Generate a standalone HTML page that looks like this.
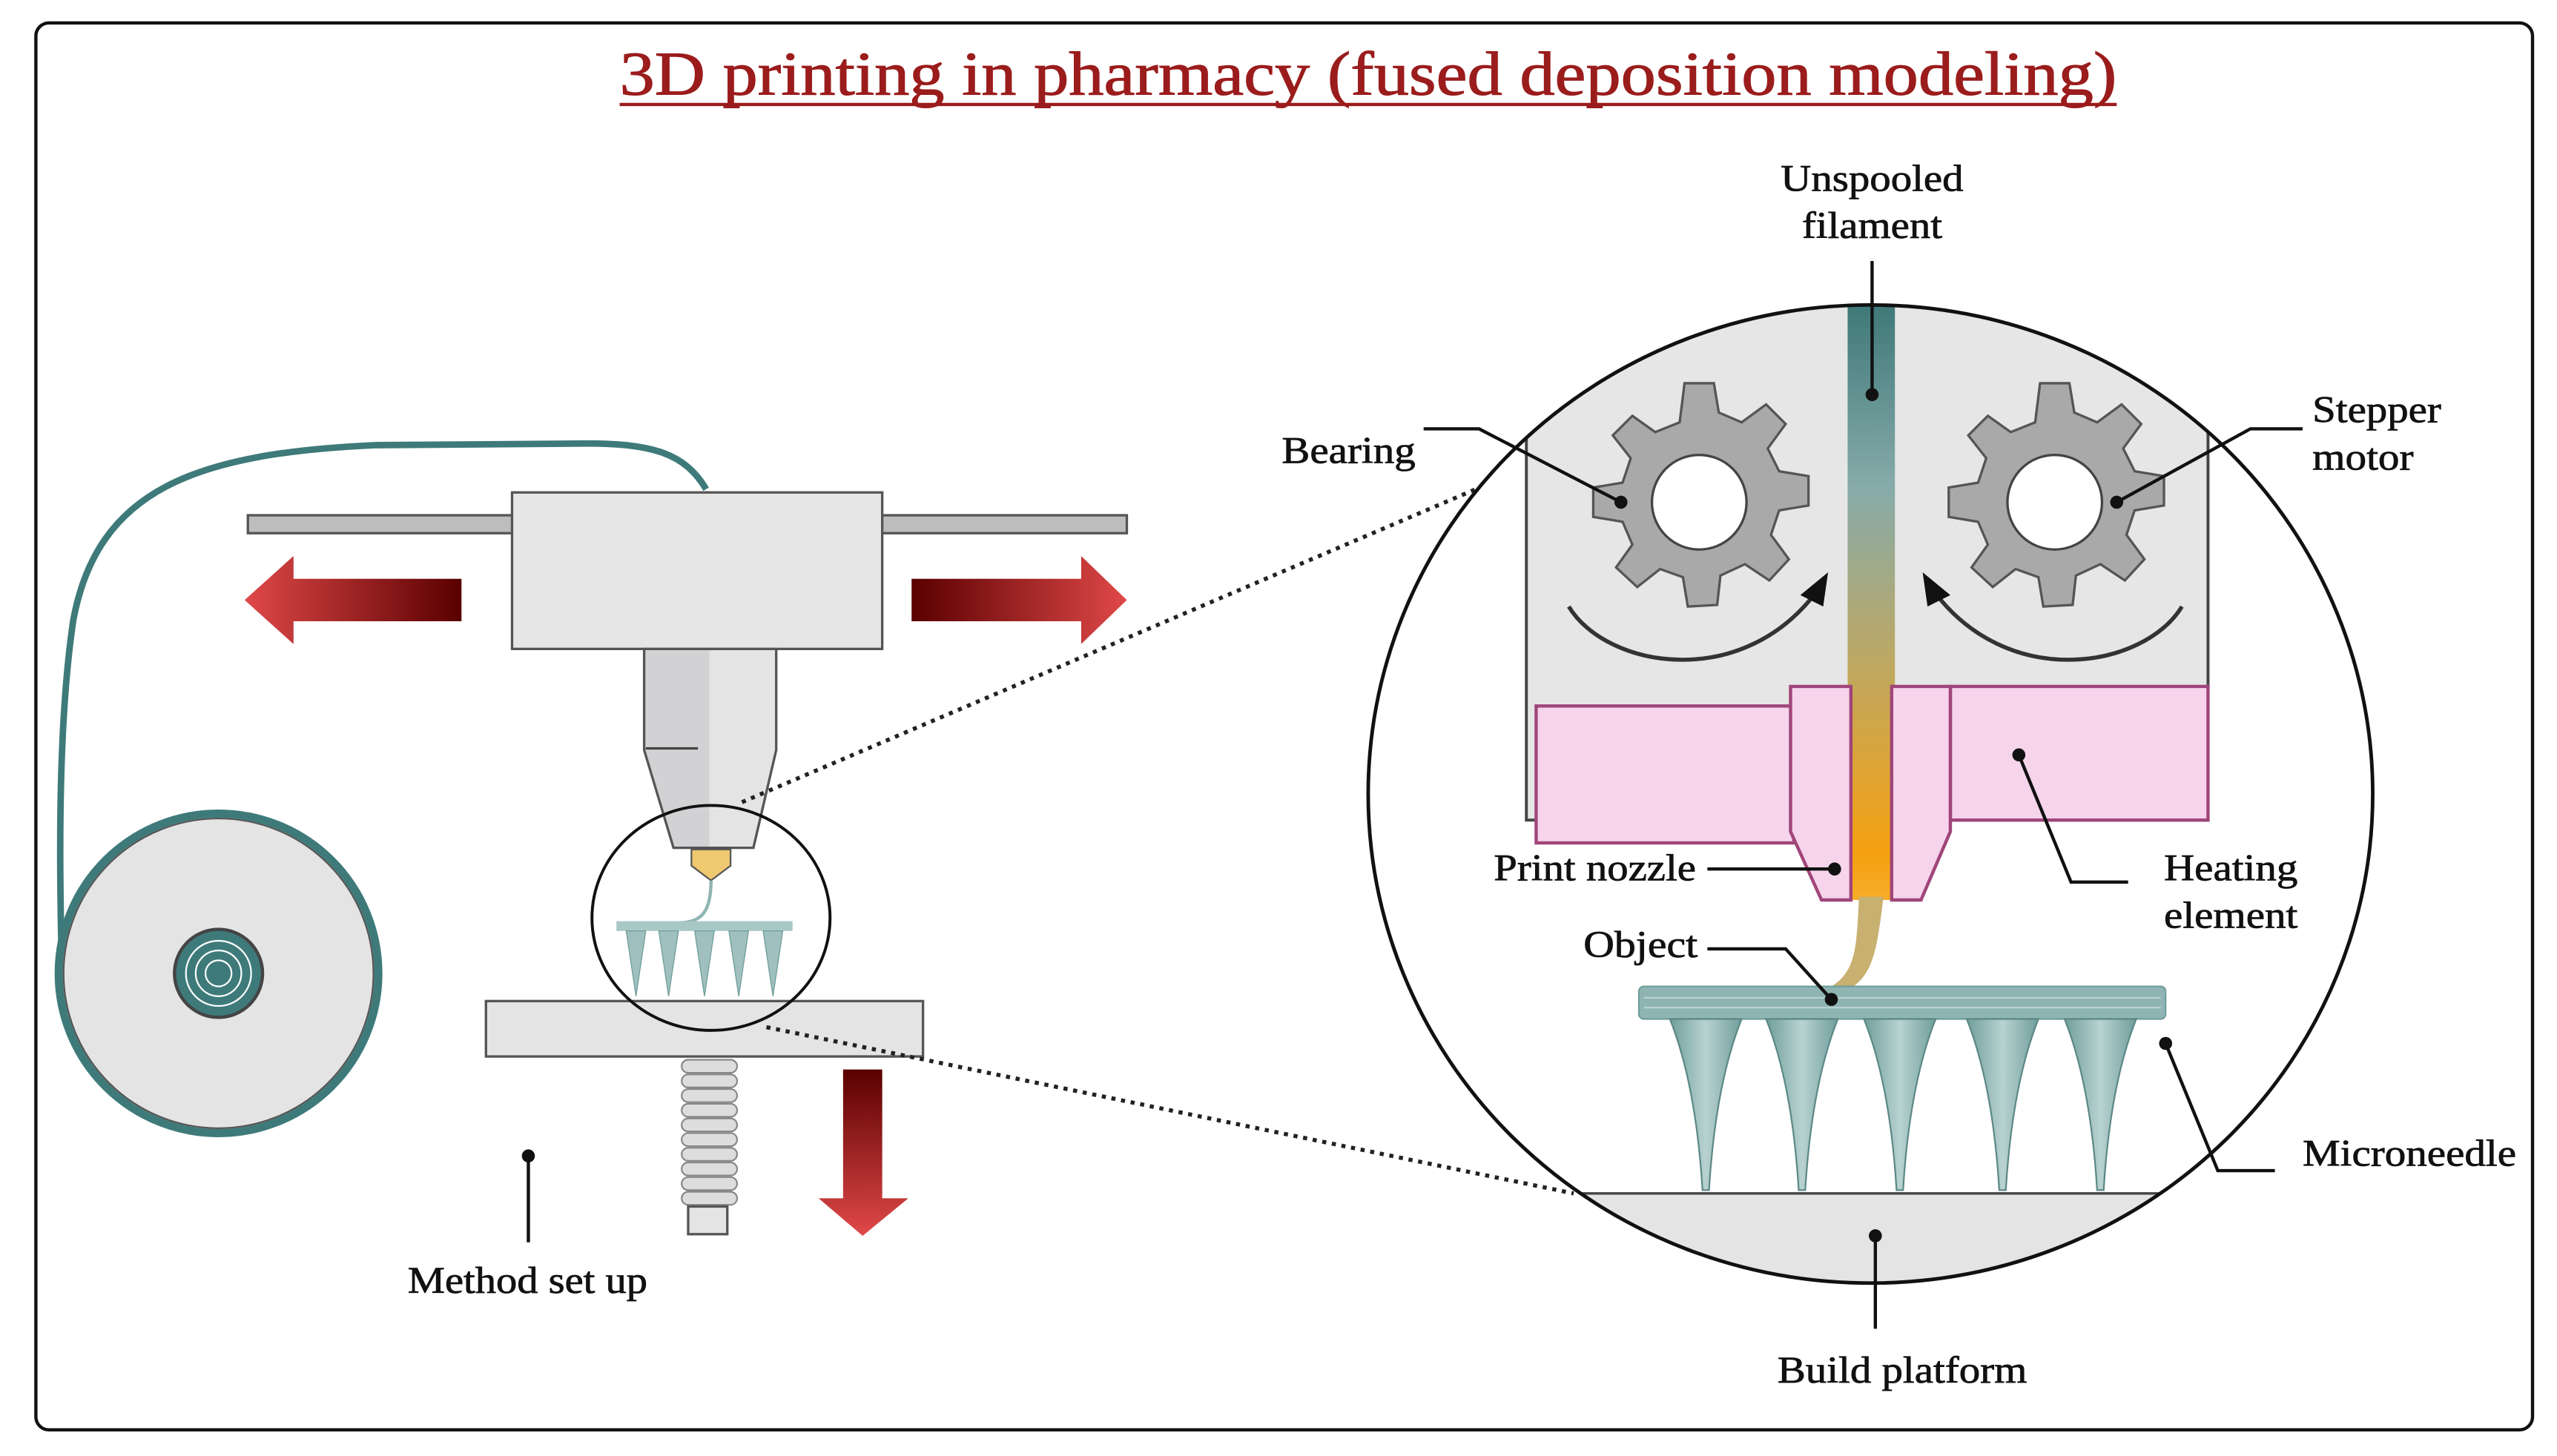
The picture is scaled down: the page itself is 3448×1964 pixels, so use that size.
<!DOCTYPE html>
<html><head><meta charset="utf-8"><style>
html,body{margin:0;padding:0;background:#fff;}
svg{display:block;}
text{font-family:"Liberation Serif",serif;fill:#111;stroke:#111;stroke-width:0.35;}
</style></head><body>
<svg width="3448" height="1964" viewBox="0 0 1568 893" xmlns="http://www.w3.org/2000/svg">
<defs>
<linearGradient id="gl" x1="0" x2="1" y1="0" y2="0"><stop offset="0" stop-color="#e04848"/><stop offset="1" stop-color="#5a0000"/></linearGradient>
<linearGradient id="gr" x1="0" x2="1" y1="0" y2="0"><stop offset="0" stop-color="#5a0000"/><stop offset="1" stop-color="#e04848"/></linearGradient>
<linearGradient id="gd" x1="0" x2="0" y1="0" y2="1"><stop offset="0" stop-color="#5a0000"/><stop offset="1" stop-color="#e04848"/></linearGradient>
<linearGradient id="fil" x1="0" x2="0" y1="187" y2="560" gradientUnits="userSpaceOnUse"><stop offset="0" stop-color="#3f7878"/><stop offset="0.3" stop-color="#86abaa"/><stop offset="0.6" stop-color="#c0a860"/><stop offset="0.9" stop-color="#f4a010"/><stop offset="1" stop-color="#f8b030"/></linearGradient>
<linearGradient id="nd" x1="0" x2="1"><stop offset="0" stop-color="#6f9e9c"/><stop offset="0.5" stop-color="#b8d2d0"/><stop offset="1" stop-color="#6f9e9c"/></linearGradient>
<clipPath id="cc"><ellipse cx="1147" cy="487" rx="308" ry="300"/></clipPath>
<g id="gear">
<path d="M-9,-73 L9,-73 L12,-55 L26,-49 L41,-60 L53,-48 L42,-33 L49,-19 L67,-16 L67,2 L49,5 L44,20 L55,35 L43,48 L28,38 L13,45 L11,63 L-7,64 L-10,46 L-24,41 L-38,52 L-51,40 L-41,26 L-47,12 L-65,9 L-65,-9 L-47,-12 L-42,-27 L-53,-41 L-41,-53 L-27,-43 L-12,-49 Z" fill="#a9a9a9" stroke="#555" stroke-width="1.5"/>
<circle r="29" fill="#fff" stroke="#444" stroke-width="1.5"/>
</g>
<g id="needle"><path d="M-22,0 L22,0 Q6,40 2,105 L-2,105 Q-6,40 -22,0 Z" fill="url(#nd)" stroke="#5c8886" stroke-width="1"/></g>
<g id="mn"><path d="M-6,0 L6,0 L0,40 Z" fill="#9fc0be" stroke="#6f9e9c" stroke-width="0.6"/></g>
</defs>
<rect x="22" y="14" width="1531" height="863" rx="8" fill="#fff" stroke="#111" stroke-width="2"/>
<text x="380" y="58" font-size="38" textLength="918" lengthAdjust="spacingAndGlyphs" style="fill:#9b1c1c;stroke:#9b1c1c;stroke-width:0.5">3D printing in pharmacy (fused deposition modeling)</text>
<line x1="380" y1="64" x2="1298" y2="64" stroke="#9b1c1c" stroke-width="2"/>

<path d="M433,300 C420,278 400,272 360,272 L230,273 C120,278 60,300 45,380 C36,440 36,520 38,595" fill="none" stroke="#3f7a7a" stroke-width="4"/>
<ellipse cx="134" cy="597" rx="98" ry="98" fill="#e4e4e4" stroke="#3f7a7a" stroke-width="5"/>
<ellipse cx="134" cy="597" rx="95" ry="95" fill="none" stroke="#555" stroke-width="1"/>
<circle cx="134" cy="597" r="27" fill="#3f7a7a" stroke="#444" stroke-width="2"/>
<circle cx="134" cy="597" r="20" fill="none" stroke="#fff" stroke-width="1"/>
<circle cx="134" cy="597" r="14" fill="none" stroke="#fff" stroke-width="1"/>
<circle cx="134" cy="597" r="8" fill="none" stroke="#fff" stroke-width="1"/>
<rect x="152" y="316" width="539" height="11" fill="#bdbdbd" stroke="#555" stroke-width="1.5"/>
<rect x="314" y="302" width="227" height="96" fill="#e6e6e6" stroke="#555" stroke-width="1.5"/>
<path d="M150,368 L180,341 L180,355 L283,355 L283,381 L180,381 L180,395 Z" fill="url(#gl)"/>
<path d="M691,368 L663,341 L663,355 L559,355 L559,381 L663,381 L663,395 Z" fill="url(#gr)"/>
<path d="M395,398 L476,398 L476,460 L462,520 L413,520 L395,460 Z" fill="#e4e4e4"/>
<path d="M395,398 L435,398 L435,520 L413,520 L395,460 Z" fill="#d2d2d4"/>
<path d="M395,398 L476,398 L476,460 L462,520 L413,520 L395,460 Z" fill="none" stroke="#555" stroke-width="1.5"/>
<line x1="396" y1="459" x2="428" y2="459" stroke="#444" stroke-width="1.5"/>
<path d="M424,521 L448,521 L448,531 L436,540 L424,531 Z" fill="#efc870" stroke="#555" stroke-width="1"/>
<path d="M436,540 C436,560 430,566 415,566" fill="none" stroke="#8fb5b3" stroke-width="2"/>
<rect x="378" y="565" width="108" height="6" fill="#a8c8c6"/>
<use href="#mn" x="390" y="571"/><use href="#mn" x="410" y="571"/><use href="#mn" x="432" y="571"/><use href="#mn" x="453" y="571"/><use href="#mn" x="474" y="571"/>
<rect x="298" y="614" width="268" height="34" fill="#e4e4e4" stroke="#555" stroke-width="1.5"/>
<g fill="#ddd" stroke="#888" stroke-width="1">
<rect x="418" y="650" width="34" height="8" rx="4"/><rect x="418" y="659" width="34" height="8" rx="4"/><rect x="418" y="668" width="34" height="8" rx="4"/><rect x="418" y="677" width="34" height="8" rx="4"/><rect x="418" y="686" width="34" height="8" rx="4"/><rect x="418" y="695" width="34" height="8" rx="4"/><rect x="418" y="704" width="34" height="8" rx="4"/><rect x="418" y="713" width="34" height="8" rx="4"/><rect x="418" y="722" width="34" height="8" rx="4"/><rect x="418" y="731" width="34" height="8" rx="4"/>
</g>
<rect x="422" y="740" width="24" height="17" fill="#e4e4e4" stroke="#555" stroke-width="1.5"/>
<path d="M517,656 L541,656 L541,735 L557,735 L529,758 L502,735 L517,735 Z" fill="url(#gd)"/>
<ellipse cx="436" cy="563" rx="73" ry="69" fill="none" stroke="#111" stroke-width="1.8"/>
<line x1="455" y1="492" x2="905" y2="300" stroke="#222" stroke-width="2.5" stroke-dasharray="2.5,3.5"/>
<line x1="470" y1="630" x2="965" y2="732" stroke="#222" stroke-width="2.5" stroke-dasharray="2.5,3.5"/>
<circle cx="324" cy="709" r="4" fill="#111"/><line x1="324" y1="709" x2="324" y2="762" stroke="#111" stroke-width="2"/>

<ellipse cx="1147" cy="487" rx="308" ry="300" fill="#fff"/>
<g clip-path="url(#cc)">
<rect x="936" y="150" width="418" height="353" fill="#e6e6e6" stroke="#444" stroke-width="1.8"/>
<rect x="900" y="732" width="500" height="80" fill="#e4e4e4"/>
<line x1="900" y1="732" x2="1400" y2="732" stroke="#444" stroke-width="1.5"/>
</g>
<rect x="1133" y="187" width="29" height="365" fill="url(#fil)"/>
<path d="M1140,550 L1155,550 C1150,590 1148,605 1120,612 L1110,612 C1138,600 1138,590 1140,550 Z" fill="#c8b070"/>
<use href="#gear" x="1042" y="308"/>
<use href="#gear" x="1260" y="308"/>
<path d="M962,372 C985,410 1070,425 1116,360" fill="none" stroke="#333" stroke-width="2.5"/>
<path d="M1121,351 L1104,365 L1118,372 Z" fill="#111"/>
<path d="M1338,372 C1315,410 1230,425 1184,360" fill="none" stroke="#333" stroke-width="2.5"/>
<path d="M1179,351 L1196,365 L1182,372 Z" fill="#111"/>
<g fill="#f6d4ec" stroke="#a0457a" stroke-width="2">
<rect x="942" y="433" width="158" height="84"/>
<rect x="1196" y="421" width="158" height="82"/>
<path d="M1098,421 L1135,421 L1135,552 L1117,552 L1098,510 Z"/>
<path d="M1160,421 L1196,421 L1196,510 L1178,552 L1160,552 Z"/>
</g>
<rect x="1005" y="605" width="323" height="20" rx="3" fill="#8fb5b3" stroke="#6f9e9c" stroke-width="1"/>
<line x1="1008" y1="612" x2="1325" y2="612" stroke="#b8d2d0" stroke-width="1"/>
<line x1="1008" y1="618" x2="1325" y2="618" stroke="#b8d2d0" stroke-width="1"/>
<use href="#needle" x="1046" y="625"/><use href="#needle" x="1105" y="625"/><use href="#needle" x="1165" y="625"/><use href="#needle" x="1228" y="625"/><use href="#needle" x="1288" y="625"/>
<ellipse cx="1147" cy="487" rx="308" ry="300" fill="none" stroke="#111" stroke-width="2.2"/>

<g font-size="23">
<text x="250" y="793" textLength="147" lengthAdjust="spacingAndGlyphs">Method set up</text>
<text x="1092" y="117" textLength="112" lengthAdjust="spacingAndGlyphs">Unspooled</text>
<text x="1105" y="146" textLength="86" lengthAdjust="spacingAndGlyphs">filament</text>
<text x="786" y="284" textLength="82" lengthAdjust="spacingAndGlyphs">Bearing</text>
<text x="1418" y="259" textLength="79" lengthAdjust="spacingAndGlyphs">Stepper</text>
<text x="1418" y="288" textLength="62" lengthAdjust="spacingAndGlyphs">motor</text>
<text x="916" y="540" textLength="124" lengthAdjust="spacingAndGlyphs">Print nozzle</text>
<text x="1327" y="540" textLength="82" lengthAdjust="spacingAndGlyphs">Heating</text>
<text x="1327" y="569" textLength="82" lengthAdjust="spacingAndGlyphs">element</text>
<text x="971" y="587" textLength="70" lengthAdjust="spacingAndGlyphs">Object</text>
<text x="1412" y="715" textLength="131" lengthAdjust="spacingAndGlyphs">Microneedle</text>
<text x="1090" y="848" textLength="153" lengthAdjust="spacingAndGlyphs">Build platform</text>
</g>
<g stroke="#111" stroke-width="2" fill="none">
<path d="M1148,160 L1148,242"/>
<path d="M873,263 L907,263 L994,308"/>
<path d="M1412,263 L1380,263 L1298,308"/>
<path d="M1047,533 L1125,533"/>
<path d="M1305,541 L1270,541 L1238,463"/>
<path d="M1047,582 L1095,582 L1123,613"/>
<path d="M1395,718 L1360,718 L1328,640"/>
<path d="M1150,758 L1150,815"/>
</g>
<g fill="#111">
<circle cx="1148" cy="242" r="4"/><circle cx="994" cy="308" r="4"/><circle cx="1298" cy="308" r="4"/>
<circle cx="1125" cy="533" r="4"/><circle cx="1238" cy="463" r="4"/><circle cx="1123" cy="613" r="4"/>
<circle cx="1328" cy="640" r="4"/><circle cx="1150" cy="758" r="4"/>
</g>
</svg>
</body></html>
